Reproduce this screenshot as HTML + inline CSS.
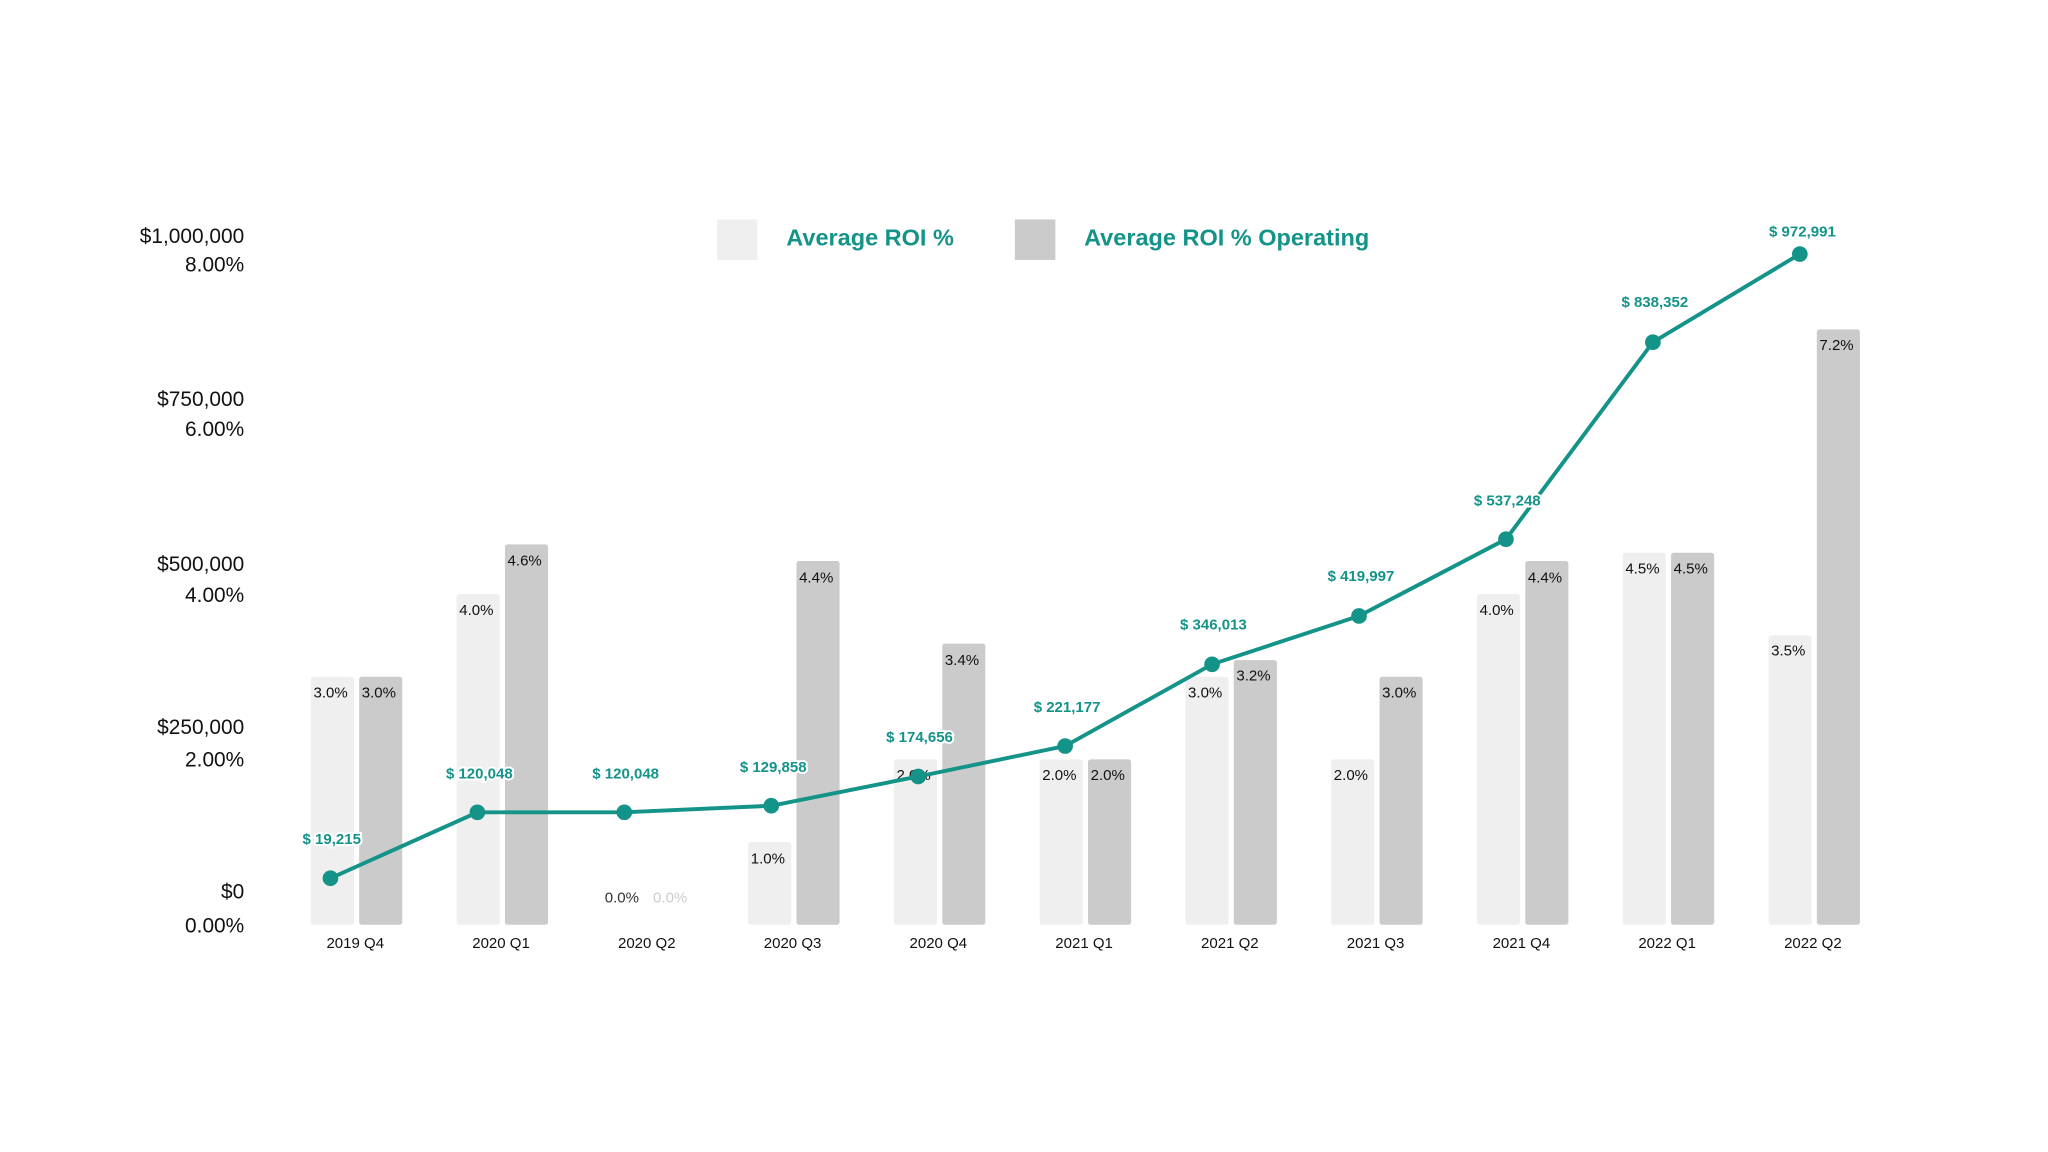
<!DOCTYPE html>
<html><head><meta charset="utf-8"><style>
html,body{margin:0;padding:0;background:#fff;width:2048px;height:1152px;overflow:hidden}
svg{display:block}
text{font-family:"Liberation Sans",sans-serif}
</style></head><body>
<svg width="2048" height="1152" viewBox="0 0 1568 882" xmlns="http://www.w3.org/2000/svg">
<g font-size="16" fill="#111" text-anchor="end">
<text x="187" y="186">$1,000,000</text><text x="187" y="208">8.00%</text>
<text x="187" y="311">$750,000</text><text x="187" y="334">6.00%</text>
<text x="187" y="437">$500,000</text><text x="187" y="461">4.00%</text>
<text x="187" y="562">$250,000</text><text x="187" y="587">2.00%</text>
<text x="187" y="688">$0</text><text x="187" y="714">0.00%</text>
</g>
<rect x="549" y="168" width="31" height="31" fill="#efefef"/>
<text x="602" y="188" font-size="18" font-weight="bold" fill="#149389">Average ROI %</text>
<rect x="777" y="168" width="31" height="31" fill="#cbcbcb"/>
<text x="830" y="188" font-size="18" font-weight="bold" fill="#149389">Average ROI % Operating</text>

<g fill="#efefef">
<rect x="238" y="518.1" width="33" height="189.9" rx="2"/>
<rect x="349.6" y="454.8" width="33" height="253.2" rx="2"/>
<rect x="572.8" y="644.7" width="33" height="63.3" rx="2"/>
<rect x="684.4" y="581.4" width="33" height="126.6" rx="2"/>
<rect x="796" y="581.4" width="33" height="126.6" rx="2"/>
<rect x="907.6" y="518.1" width="33" height="189.9" rx="2"/>
<rect x="1019.2" y="581.4" width="33" height="126.6" rx="2"/>
<rect x="1130.8" y="454.8" width="33" height="253.2" rx="2"/>
<rect x="1242.4" y="423.2" width="33" height="284.8" rx="2"/>
<rect x="1354" y="486.5" width="33" height="221.5" rx="2"/>
</g>
<g fill="#cbcbcb">
<rect x="275" y="518.1" width="33" height="189.9" rx="2"/>
<rect x="386.6" y="416.8" width="33" height="291.2" rx="2"/>
<rect x="609.8" y="429.5" width="33" height="278.5" rx="2"/>
<rect x="721.4" y="492.8" width="33" height="215.2" rx="2"/>
<rect x="833" y="581.4" width="33" height="126.6" rx="2"/>
<rect x="944.6" y="505.4" width="33" height="202.6" rx="2"/>
<rect x="1056.2" y="518.1" width="33" height="189.9" rx="2"/>
<rect x="1167.8" y="429.5" width="33" height="278.5" rx="2"/>
<rect x="1279.4" y="423.2" width="33" height="284.8" rx="2"/>
<rect x="1391" y="252.2" width="33" height="455.8" rx="2"/>
</g>
<g font-size="11.5" fill="#111">
<text x="240" y="534">3.0%</text><text x="277" y="534">3.0%</text>
<text x="351.6" y="471">4.0%</text><text x="388.6" y="433">4.6%</text>
<text x="463" y="691" fill="#333">0.0%</text><text x="500" y="691" fill="#ccc">0.0%</text>
<text x="574.8" y="661">1.0%</text><text x="611.8" y="446">4.4%</text>
<text x="686.4" y="597">2.0%</text><text x="723.4" y="509">3.4%</text>
<text x="798" y="597">2.0%</text><text x="835" y="597">2.0%</text>
<text x="909.6" y="534">3.0%</text><text x="946.6" y="521">3.2%</text>
<text x="1021.2" y="597">2.0%</text><text x="1058.2" y="534">3.0%</text>
<text x="1132.8" y="471">4.0%</text><text x="1169.8" y="446">4.4%</text>
<text x="1244.4" y="439">4.5%</text><text x="1281.4" y="439">4.5%</text>
<text x="1356" y="502">3.5%</text><text x="1393" y="268">7.2%</text>
</g>
<g font-size="11.5" fill="#111" text-anchor="middle">
<text x="272" y="726">2019 Q4</text><text x="383.6" y="726">2020 Q1</text><text x="495.2" y="726">2020 Q2</text>
<text x="606.8" y="726">2020 Q3</text><text x="718.4" y="726">2020 Q4</text><text x="830" y="726">2021 Q1</text>
<text x="941.6" y="726">2021 Q2</text><text x="1053.2" y="726">2021 Q3</text><text x="1164.8" y="726">2021 Q4</text>
<text x="1276.4" y="726">2022 Q1</text><text x="1388" y="726">2022 Q2</text>
</g>

<polyline points="253,672.4 365.5,621.9 478,621.9 590.5,616.9 703,594.5 815.5,571.2 928,508.6 1040.5,471.6 1153,412.8 1265.5,262 1378,194.5" fill="none" stroke="#149389" stroke-width="3"/>
<g fill="#149389">
<circle cx="253" cy="672.4" r="6"/><circle cx="365.5" cy="621.9" r="6"/><circle cx="478" cy="621.9" r="6"/>
<circle cx="590.5" cy="616.9" r="6"/><circle cx="703" cy="594.5" r="6"/><circle cx="815.5" cy="571.2" r="6"/>
<circle cx="928" cy="508.6" r="6"/><circle cx="1040.5" cy="471.6" r="6"/><circle cx="1153" cy="412.8" r="6"/>
<circle cx="1265.5" cy="262" r="6"/><circle cx="1378" cy="194.5" r="6"/>
</g>
<g font-size="11.5" font-weight="bold" text-anchor="middle" fill="#149389" stroke="#fff" stroke-width="3" paint-order="stroke">
<text x="254" y="646">$ 19,215</text>
<text x="367" y="596">$ 120,048</text>
<text x="479" y="596">$ 120,048</text>
<text x="592" y="591">$ 129,858</text>
<text x="704" y="568">$ 174,656</text>
<text x="817" y="545">$ 221,177</text>
<text x="929" y="482">$ 346,013</text>
<text x="1042" y="445">$ 419,997</text>
<text x="1154" y="387">$ 537,248</text>
<text x="1267" y="235">$ 838,352</text>
<text x="1380" y="181">$ 972,991</text>
</g>
</svg>
</body></html>
